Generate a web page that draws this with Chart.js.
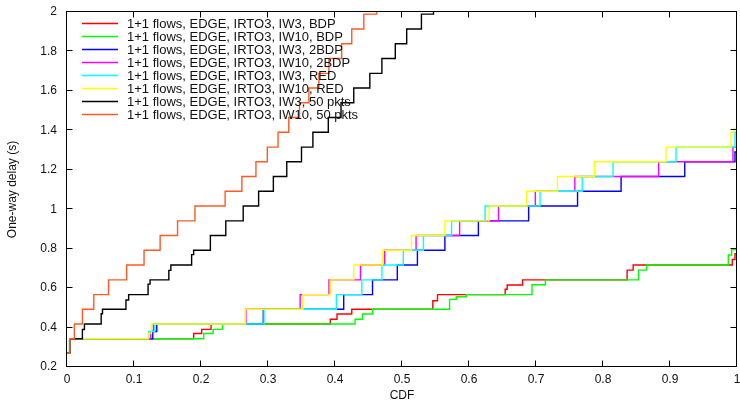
<!DOCTYPE html>
<html>
<head>
<meta charset="utf-8">
<script src="https://cdn.jsdelivr.net/npm/chart.js@4/dist/chart.umd.min.js"></script>
<style>
  html, body { margin: 0; padding: 0; background: #fff; }
</style>
</head>
<body>
<canvas id="delay" width="740" height="402"></canvas>
<script>
// CDF of one-way delay, each series is [cdf, delay (s)] where the step starts
const iw3Bdp = [[0,0.27],[0.004,0.343],[0.189,0.37],[0.201,0.391],[0.215,0.418],[0.393,0.442],[0.403,0.469],[0.425,0.493],[0.546,0.536],[0.553,0.567],[0.654,0.594],[0.657,0.616],[0.680,0.642],[0.836,0.691],[0.845,0.717],[0.993,0.745],[0.997,0.775],[1,0.775]];
const iw10Bdp = [[0,0.27],[0.004,0.343],[0.204,0.37],[0.218,0.391],[0.232,0.418],[0.430,0.442],[0.441,0.469],[0.456,0.493],[0.571,0.543],[0.581,0.556],[0.596,0.567],[0.694,0.617],[0.714,0.642],[0.853,0.691],[0.865,0.717],[0.987,0.768],[0.992,0.795],[1,0.795]];
const iw3Bdp2 = [[0,0.27],[0.004,0.343],[0.128,0.38],[0.134,0.418],[0.293,0.493],[0.413,0.567],[0.456,0.642],[0.493,0.717],[0.523,0.792],[0.564,0.867],[0.614,0.941],[0.689,1.016],[0.762,1.091],[0.827,1.166],[0.922,1.241],[0.997,1.29],[1,1.29]];
const iw10Bdp2 = [[0,0.27],[0.004,0.343],[0.125,0.38],[0.129,0.418],[0.267,0.493],[0.348,0.567],[0.391,0.642],[0.438,0.717],[0.474,0.792],[0.521,0.867],[0.586,0.941],[0.644,1.016],[0.699,1.091],[0.758,1.166],[0.883,1.241],[0.994,1.315],[1,1.315]];
const iw3Red = [[0,0.27],[0.004,0.343],[0.122,0.38],[0.131,0.418],[0.294,0.493],[0.402,0.567],[0.440,0.642],[0.470,0.717],[0.502,0.792],[0.532,0.867],[0.574,0.941],[0.624,1.016],[0.706,1.091],[0.769,1.166],[0.815,1.241],[0.909,1.315],[0.997,1.39],[1,1.39]];
const iw10Red = [[0,0.27],[0.004,0.343],[0.121,0.37],[0.126,0.418],[0.266,0.493],[0.352,0.567],[0.393,0.642],[0.428,0.717],[0.471,0.792],[0.514,0.867],[0.564,0.941],[0.630,1.016],[0.686,1.091],[0.732,1.166],[0.787,1.241],[0.894,1.315],[0.991,1.39],[0.995,1.41],[1,1.41]];
const iw3Pkts50 = [[0,0.27],[0.004,0.343],[0.023,0.39],[0.026,0.418],[0.051,0.47],[0.053,0.493],[0.088,0.54],[0.092,0.567],[0.121,0.62],[0.124,0.642],[0.152,0.69],[0.155,0.717],[0.186,0.77],[0.189,0.792],[0.214,0.867],[0.237,0.941],[0.263,1.016],[0.286,1.091],[0.308,1.166],[0.328,1.241],[0.350,1.315],[0.367,1.390],[0.390,1.465],[0.409,1.540],[0.428,1.615],[0.452,1.689],[0.470,1.764],[0.490,1.839],[0.507,1.914],[0.529,1.989],[0.547,2.064]];
const iw10Pkts50 = [[0,0.27],[0.004,0.343],[0.011,0.418],[0.023,0.493],[0.040,0.567],[0.062,0.642],[0.089,0.717],[0.115,0.792],[0.139,0.867],[0.165,0.941],[0.191,1.016],[0.236,1.091],[0.261,1.166],[0.282,1.241],[0.299,1.315],[0.315,1.390],[0.331,1.465],[0.347,1.540],[0.361,1.615],[0.376,1.689],[0.391,1.764],[0.410,1.839],[0.425,1.914],[0.443,1.989],[0.462,2.064]];

const labels = [
  "1+1 flows, EDGE, IRTO3, IW3, BDP",
  "1+1 flows, EDGE, IRTO3, IW10, BDP",
  "1+1 flows, EDGE, IRTO3, IW3, 2BDP",
  "1+1 flows, EDGE, IRTO3, IW10, 2BDP",
  "1+1 flows, EDGE, IRTO3, IW3, RED",
  "1+1 flows, EDGE, IRTO3, IW10, RED",
  "1+1 flows, EDGE, IRTO3, IW3, 50 pkts",
  "1+1 flows, EDGE, IRTO3, IW10, 50 pkts",
];
const series = [iw3Bdp, iw10Bdp, iw3Bdp2, iw10Bdp2, iw3Red, iw10Red, iw3Pkts50, iw10Pkts50];
const colors = ["#ff0000", "#00ff00", "#0000ff", "#ff00ff", "#00ffff", "#ffff00", "#000000", "#ff5a22"];

const xTickValues = [0, 0.1, 0.2, 0.3, 0.4, 0.5, 0.6, 0.7, 0.8, 0.9, 1];
const xTickLabels = ["0", "0.1", "0.2", "0.3", "0.4", "0.5", "0.6", "0.7", "0.8", "0.9", "1"];
const yTickValues = [0.2, 0.4, 0.6, 0.8, 1, 1.2, 1.4, 1.6, 1.8, 2];
const yTickLabels = ["0.2", "0.4", "0.6", "0.8", "1", "1.2", "1.4", "1.6", "1.8", "2"];

const FONT = '"Liberation Sans", Arial, sans-serif';
Chart.defaults.font.family = FONT;
Chart.defaults.font.size = 12;
Chart.defaults.color = "#111";

// gnuplot-like frame with inward ticks on all four sides
const frameTicks = {
  id: "frameTicks",
  afterDatasetsDraw(chart) {
    const { ctx, chartArea: a, scales } = chart;
    const L = a.left - 0.5, R = a.right - 0.5, T = a.top - 0.5, B = a.bottom - 0.5;
    ctx.save();
    ctx.strokeStyle = "#000";
    ctx.lineWidth = 1;
    ctx.beginPath();
    scales.x.ticks.forEach((t) => {
      const px = Math.round(scales.x.getPixelForValue(t.value)) - 0.5;
      ctx.moveTo(px, B); ctx.lineTo(px, B - 6);
      ctx.moveTo(px, T); ctx.lineTo(px, T + 6);
    });
    scales.y.ticks.forEach((t) => {
      const py = Math.round(scales.y.getPixelForValue(t.value)) - 0.5;
      ctx.moveTo(L, py); ctx.lineTo(L + 6, py);
      ctx.moveTo(R, py); ctx.lineTo(R - 6, py);
    });
    ctx.stroke();
    ctx.strokeRect(L, T, R - L, B - T);
    ctx.restore();
  },
};

// key in the upper left corner of the plot
const keyBox = {
  id: "keyBox",
  afterDraw(chart) {
    const { ctx, chartArea: a } = chart;
    ctx.save();
    ctx.font = "13px " + FONT;
    ctx.textBaseline = "middle";
    ctx.fillStyle = "#111";
    chart.data.datasets.forEach((ds, i) => {
      const yy = a.top + 11.5 + i * 13;
      ctx.strokeStyle = ds.borderColor;
      ctx.lineWidth = 1.3;
      ctx.beginPath();
      ctx.moveTo(a.left + 15, yy);
      ctx.lineTo(a.left + 51, yy);
      ctx.stroke();
      ctx.fillText(ds.label, a.left + 60, yy + 1);
    });
    ctx.restore();
  },
};

new Chart(document.getElementById("delay"), {
  type: "scatter",
  data: {
    datasets: series.map((s, i) => ({
      label: labels[i],
      data: s.map(([x, y]) => ({ x, y })),
      borderColor: colors[i],
      backgroundColor: colors[i],
      borderWidth: 1.4,
      showLine: true,
      stepped: true,
      pointRadius: 0,
      order: -i,
    })),
  },
  options: {
    responsive: false,
    animation: false,
    devicePixelRatio: 1,
    layout: { padding: { top: 12, right: 3, left: 0, bottom: 0 } },
    plugins: {
      legend: { display: false },
      tooltip: { enabled: false },
    },
    scales: {
      x: {
        type: "linear",
        min: 0,
        max: 1,
        afterBuildTicks: (scale) => { scale.ticks = xTickValues.map((v) => ({ value: v })); },
        afterFit: (scale) => {
          scale.height = 35;
          scale.paddingLeft = 0;
          scale.paddingRight = 0;
        },
        ticks: {
          padding: 5,
          maxRotation: 0,
          callback: (v, i) => xTickLabels[i],
        },
        grid: { display: false, drawTicks: false },
        border: { display: false },
        title: {
          display: true,
          text: "CDF",
          font: { size: 12, lineHeight: 1 },
          padding: { top: 0, bottom: 0 },
        },
      },
      y: {
        type: "linear",
        min: 0.2,
        max: 2,
        afterBuildTicks: (scale) => { scale.ticks = yTickValues.map((v) => ({ value: v })); },
        afterFit: (scale) => {
          scale.width = 67;
          scale.paddingTop = 0;
          scale.paddingBottom = 0;
        },
        ticks: {
          padding: 10,
          callback: (v, i) => yTickLabels[i],
        },
        grid: { display: false, drawTicks: false },
        border: { display: false },
        title: {
          display: true,
          text: "One-way delay (s)",
          font: { size: 12 },
          padding: { top: 5, bottom: 0 },
        },
      },
    },
  },
  plugins: [frameTicks, keyBox],
});
</script>
</body>
</html>
